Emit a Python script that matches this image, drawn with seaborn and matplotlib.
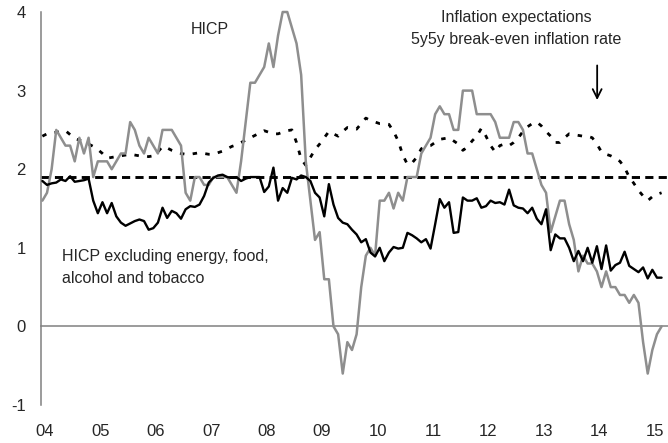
import numpy as np
import pandas as pd
import matplotlib
matplotlib.use('Agg')
import matplotlib.pyplot as plt
import seaborn as sns

# monthly data, Feb 2004 - Apr 2015 (annual % changes)
hicp = [1.6, 1.7, 2.0, 2.5, 2.4, 2.3, 2.3, 2.1, 2.4, 2.2, 2.4,
        1.9, 2.1, 2.1, 2.1, 2.0, 2.1, 2.2, 2.2, 2.6, 2.5, 2.3, 2.2,
        2.4, 2.3, 2.2, 2.5, 2.5, 2.5, 2.4, 2.3, 1.7, 1.6, 1.9, 1.9,
        1.8, 1.8, 1.9, 1.9, 1.9, 1.9, 1.8, 1.7, 2.1, 2.6, 3.1, 3.1,
        3.2, 3.3, 3.6, 3.3, 3.7, 4.0, 4.0, 3.8, 3.6, 3.2, 2.1, 1.6,
        1.1, 1.2, 0.6, 0.6, 0.0, -0.1, -0.6, -0.2, -0.3, -0.1, 0.5, 0.9,
        1.0, 0.9, 1.6, 1.6, 1.7, 1.5, 1.7, 1.6, 1.9, 1.9, 1.9, 2.2,
        2.3, 2.4, 2.7, 2.8, 2.7, 2.7, 2.5, 2.5, 3.0, 3.0, 3.0, 2.7,
        2.7, 2.7, 2.7, 2.6, 2.4, 2.4, 2.4, 2.6, 2.6, 2.5, 2.2, 2.2,
        2.0, 1.8, 1.7, 1.2, 1.4, 1.6, 1.6, 1.3, 1.1, 0.7, 0.9, 0.8,
        0.8, 0.7, 0.5, 0.7, 0.5, 0.5, 0.4, 0.4, 0.3, 0.4, 0.3, -0.2,
        -0.6, -0.3, -0.1, 0.0]

core = [1.85, 1.80, 1.82, 1.83, 1.87, 1.85, 1.91, 1.84, 1.85, 1.86, 1.88,
        1.60, 1.44, 1.58, 1.44, 1.57, 1.40, 1.32, 1.28, 1.31, 1.34, 1.36, 1.34,
        1.23, 1.25, 1.32, 1.51, 1.38, 1.47, 1.44, 1.37, 1.49, 1.53, 1.52,
        1.55, 1.66, 1.83, 1.89, 1.92, 1.93, 1.90, 1.89, 1.90, 1.85, 1.88, 1.90, 1.90, 1.90,
        1.71, 1.78, 2.02, 1.60, 1.76, 1.70, 1.89, 1.87, 1.92, 1.90, 1.85,
        1.70, 1.64, 1.40, 1.81, 1.55, 1.38, 1.32, 1.30, 1.23, 1.17, 1.07, 1.11,
        0.94, 0.89, 1.00, 0.83, 0.94, 1.01, 0.99, 1.00, 1.19, 1.16, 1.12, 1.07, 1.11, 0.99,
        1.30, 1.62, 1.51, 1.58, 1.19, 1.20, 1.64, 1.60, 1.60, 1.63, 1.51, 1.53, 1.60,
        1.57, 1.58, 1.55, 1.74,
        1.54, 1.51, 1.50, 1.44, 1.51, 1.37, 1.30, 1.49, 0.97,
        1.17, 1.12, 1.12, 1.00, 0.83, 0.96, 0.83, 1.00, 0.81, 1.02, 0.73, 1.03,
        0.71, 0.78, 0.81, 0.95, 0.77, 0.73, 0.69, 0.75, 0.61, 0.72, 0.62, 0.62]

bei_5y5y = [2.42, 2.45, 2.46, 2.47, 2.48, 2.49, 2.44, 2.39, 2.37, 2.35, 2.32, 2.29,
            2.25, 2.20, 2.14, 2.15, 2.16, 2.17, 2.18, 2.19, 2.18, 2.17, 2.17, 2.16,
            2.17, 2.22, 2.29, 2.27, 2.24, 2.22, 2.20, 2.19, 2.19, 2.20, 2.21, 2.20,
            2.19, 2.19, 2.21, 2.23, 2.26, 2.29, 2.31, 2.34, 2.37, 2.40, 2.43, 2.46,
            2.49, 2.47, 2.45, 2.45, 2.47, 2.49, 2.50, 2.34, 2.13, 2.05, 2.15, 2.25,
            2.32, 2.40, 2.48, 2.45, 2.42, 2.48, 2.53, 2.52, 2.51, 2.58, 2.65, 2.62,
            2.60, 2.58, 2.58, 2.57, 2.48, 2.36, 2.18, 2.06, 2.08, 2.15, 2.26, 2.29,
            2.30, 2.34, 2.38, 2.39, 2.40, 2.36, 2.32, 2.24, 2.28, 2.36, 2.42, 2.52,
            2.42, 2.30, 2.22, 2.30, 2.32, 2.30, 2.34, 2.40, 2.48, 2.54, 2.58, 2.60,
            2.55, 2.48, 2.42, 2.34, 2.34, 2.40, 2.45, 2.44, 2.43, 2.42, 2.42, 2.40,
            2.32, 2.22, 2.19, 2.17, 2.14, 2.10, 2.02, 1.90, 1.82, 1.73, 1.66, 1.60,
            1.65, 1.68, 1.70]

target = 1.9
years = list(range(2004, 2016))
year_labels = ['04', '05', '06', '07', '08', '09', '10', '11', '12', '13', '14', '15']

t = 2004 + (np.arange(len(hicp)) + 0.3) / 12
df = pd.DataFrame({'t': t, 'hicp': hicp, 'core': core, 'bei': bei_5y5y})

sns.set_style('white')
plt.rcParams['font.family'] = ['Liberation Sans', 'DejaVu Sans']
plt.rcParams['axes.unicode_minus'] = False

fig = plt.figure(figsize=(6.68, 4.43), dpi=100)
ax = fig.add_axes([41 / 668, 1 - 405 / 443, 627 / 668, 393 / 443])

ax.axhline(target, color='black', lw=2.1, dashes=(2.8, 1.8), zorder=2)
sns.lineplot(data=df, x='t', y='bei', ax=ax, color='black', lw=2.0,
             dashes=False, zorder=3)
ax.lines[-1].set_dashes((1.6, 3.0))
ax.lines[-1].set_dash_capstyle('butt')
sns.lineplot(data=df, x='t', y='hicp', ax=ax, color='#8e8e8e', lw=1.8, zorder=4)
ax.lines[-1].set_clip_on(False)
sns.lineplot(data=df, x='t', y='core', ax=ax, color='black', lw=1.7, zorder=5)

ax.set_xlim(2004, 2004 + 627 / 55.45)
ax.set_ylim(-1, 4)
ax.set_xlabel('')
ax.set_ylabel('')

grey = '#808080'
for s in ['top', 'right']:
    ax.spines[s].set_visible(False)
ax.spines['bottom'].set_position(('data', 0))
ax.spines['bottom'].set_color(grey)
ax.spines['left'].set_color(grey)
ax.spines['bottom'].set_linewidth(1.1)
ax.spines['left'].set_linewidth(1.1)

ax.set_xticks(years)
ax.tick_params(axis='x', direction='in', length=3, width=1, color=grey,
               labelbottom=False)
ax.set_yticks([-1, 0, 1, 2, 3, 4])
ax.tick_params(axis='y', direction='out', length=3, width=1, color=grey,
               labelsize=12, pad=8)

sec = ax.secondary_xaxis(0)
sec.set_xticks([y + 0.07 for y in years], labels=year_labels)
sec.tick_params(length=0, pad=14, labelsize=12)
sec.spines['bottom'].set_visible(False)

fs = 11.5
ax.text(2007.05, 3.78, 'HICP', ha='center', va='center', fontsize=fs)
ax.text(2012.57, 3.93, 'Inflation expectations', ha='center', va='center', fontsize=fs)
ax.text(2012.57, 3.65, '5y5y break-even inflation rate', ha='center', va='center', fontsize=fs)
ax.text(2004.38, 0.89, 'HICP excluding energy, food,', ha='left', va='center', fontsize=fs)
ax.text(2004.38, 0.61, 'alcohol and tobacco', ha='left', va='center', fontsize=fs)
ax.annotate('', xy=(2014.03, 2.88), xytext=(2014.03, 3.32),
            arrowprops=dict(arrowstyle='->', lw=1.3, color='black',
                            mutation_scale=16, shrinkA=0, shrinkB=0))

fig.savefig('out.png', dpi=100)
